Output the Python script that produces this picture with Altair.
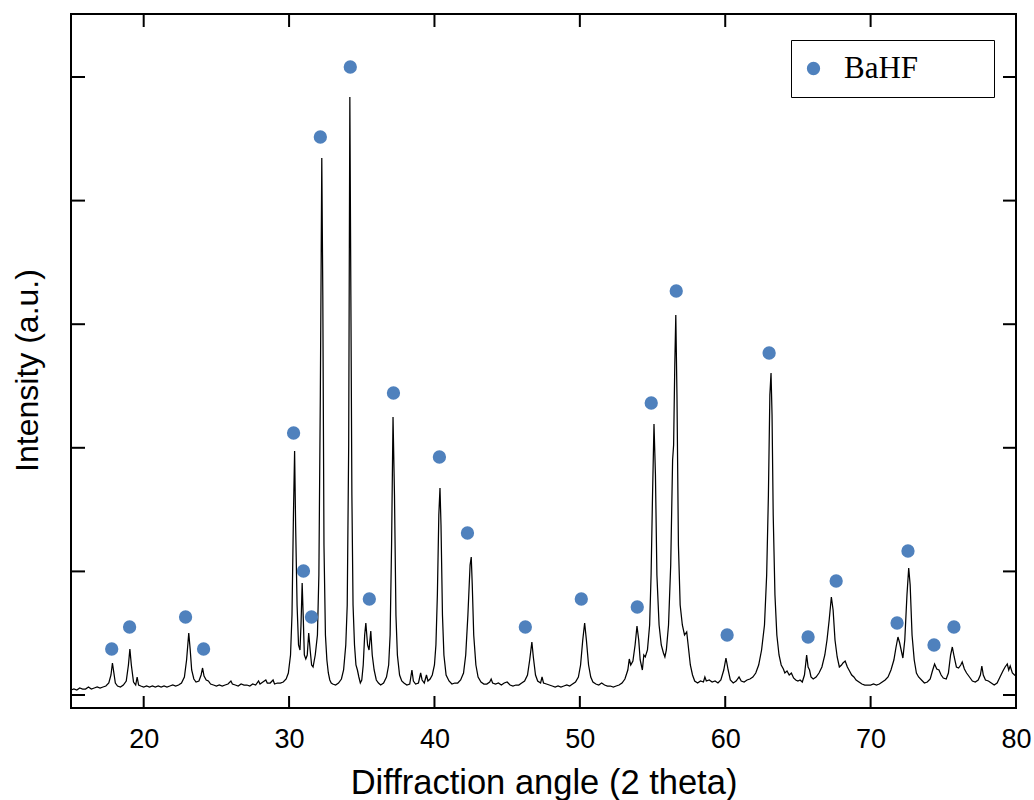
import altair as alt
import pandas as pd

# XRD trace: 2-theta (deg) and intensity (a.u.)
two_theta = [
    15.0, 15.2, 15.4, 15.6, 15.8, 16.0, 16.2, 16.4, 16.6, 16.8, 17.0, 17.2, 17.4, 17.6, 17.75, 17.85, 17.95, 18.05, 18.2, 18.4,
    18.6, 18.8, 18.95, 19.05, 19.15, 19.3, 19.45, 19.55, 19.65, 19.8, 20.0, 20.2, 20.4, 20.6, 20.8, 21.0, 21.2, 21.4, 21.6, 21.8,
    22.0, 22.2, 22.4, 22.6, 22.8, 22.95, 23.1, 23.2, 23.3, 23.45, 23.6, 23.8, 23.95, 24.05, 24.15, 24.3, 24.45, 24.6, 24.8, 25.0,
    25.2, 25.4, 25.6, 25.8, 26.0, 26.1, 26.3, 26.5, 26.7, 26.9, 27.1, 27.3, 27.5, 27.7, 27.9, 28.0, 28.2, 28.4, 28.5, 28.7,
    28.9, 29.0, 29.2, 29.4, 29.6, 29.8, 29.95, 30.1, 30.2, 30.3, 30.38, 30.45, 30.55, 30.65, 30.75, 30.82, 30.9, 30.98, 31.05, 31.15,
    31.25, 31.35, 31.45, 31.55, 31.65, 31.8, 31.95, 32.05, 32.15, 32.25, 32.32, 32.4, 32.5, 32.6, 32.7, 32.8, 32.9, 33.0, 33.2, 33.4,
    33.6, 33.75, 33.9, 34.0, 34.1, 34.18, 34.25, 34.32, 34.4, 34.5, 34.6, 34.7, 34.8, 34.9, 35.0, 35.1, 35.2, 35.28, 35.4, 35.5,
    35.62, 35.72, 35.85, 36.0, 36.15, 36.3, 36.5, 36.7, 36.85, 36.95, 37.05, 37.15, 37.25, 37.35, 37.45, 37.6, 37.75, 37.9, 38.1, 38.3,
    38.45, 38.55, 38.7, 38.9, 39.05, 39.15, 39.3, 39.45, 39.55, 39.7, 39.85, 40.0, 40.1, 40.2, 40.3, 40.38, 40.45, 40.55, 40.65, 40.8,
    41.0, 41.2, 41.4, 41.6, 41.8, 42.0, 42.15, 42.3, 42.45, 42.53, 42.6, 42.7, 42.85, 43.0, 43.2, 43.4, 43.6, 43.8, 43.9, 44.0,
    44.2, 44.4, 44.6, 44.8, 45.0, 45.2, 45.4, 45.6, 45.8, 46.0, 46.2, 46.4, 46.55, 46.7, 46.8, 46.95, 47.1, 47.3, 47.4, 47.5,
    47.7, 47.9, 48.1, 48.3, 48.5, 48.7, 48.9, 49.1, 49.3, 49.5, 49.7, 49.9, 50.05, 50.2, 50.33, 50.45, 50.6, 50.75, 50.9, 51.1,
    51.3, 51.5, 51.7, 51.9, 52.1, 52.3, 52.5, 52.7, 52.9, 53.1, 53.3, 53.4, 53.5, 53.65, 53.8, 53.93, 54.05, 54.15, 54.3, 54.4,
    54.5, 54.65, 54.8, 54.9, 55.0, 55.1, 55.2, 55.3, 55.45, 55.6, 55.75, 55.85, 55.95, 56.1, 56.25, 56.38, 56.45, 56.53, 56.6, 56.68,
    56.78, 56.9, 57.05, 57.2, 57.35, 57.45, 57.6, 57.75, 57.9, 58.1, 58.3, 58.5, 58.6, 58.7, 58.9, 59.1, 59.3, 59.5, 59.7, 59.9,
    60.05, 60.2, 60.35, 60.55, 60.75, 60.95, 61.1, 61.3, 61.5, 61.7, 61.9, 62.1, 62.3, 62.5, 62.7, 62.85, 62.97, 63.07, 63.15, 63.22,
    63.3, 63.42, 63.55, 63.7, 63.85, 64.0, 64.1, 64.25, 64.4, 64.55, 64.7, 64.85, 65.0, 65.15, 65.3, 65.45, 65.6, 65.7, 65.8, 65.9,
    66.05, 66.25, 66.45, 66.65, 66.85, 67.0, 67.15, 67.3, 67.42, 67.55, 67.7, 67.85, 68.0, 68.1, 68.25, 68.4, 68.55, 68.7, 68.85, 69.0,
    69.2, 69.4, 69.6, 69.8, 70.0, 70.2, 70.4, 70.6, 70.8, 71.0, 71.2, 71.4, 71.6, 71.75, 71.88, 72.0, 72.1, 72.22, 72.35, 72.5,
    72.62, 72.72, 72.85, 73.0, 73.15, 73.3, 73.5, 73.7, 73.9, 74.1, 74.25, 74.4, 74.55, 74.7, 74.85, 75.0, 75.2, 75.35, 75.5, 75.62,
    75.75, 75.9, 76.05, 76.2, 76.3, 76.45, 76.6, 76.8, 77.0, 77.2, 77.4, 77.55, 77.65, 77.75, 77.9, 78.1, 78.3, 78.5, 78.7, 78.9,
    79.1, 79.25, 79.4, 79.5, 79.6, 79.75, 79.9, 80.0,
]
intensity = [
    5, 6, 5, 7, 6, 6, 8, 6, 7, 8, 7, 8, 9, 12, 20, 32, 22, 12, 9, 8,
    10, 14, 30, 46, 30, 13, 10, 18, 10, 9, 8, 9, 8, 9, 8, 9, 8, 9, 8, 9,
    10, 9, 10, 12, 18, 35, 62, 45, 25, 16, 13, 14, 20, 27, 19, 15, 14, 11, 10, 9,
    10, 9, 10, 11, 14, 11, 10, 9, 11, 10, 10, 9, 11, 10, 14, 11, 13, 15, 12, 12,
    15, 11, 12, 12, 13, 16, 22, 40, 80, 180, 244, 170, 90, 50, 45, 70, 112, 75, 40, 36,
    40, 62, 45, 30, 28, 40, 60, 120, 300, 537, 400, 150, 60, 35, 22, 15, 12, 11, 10, 12,
    16, 25, 50, 90, 250, 598, 400, 200, 90, 50, 30, 25, 18, 12, 15, 30, 60, 72, 50, 45,
    64, 40, 25, 15, 12, 10, 12, 18, 30, 60, 150, 278, 200, 80, 40, 20, 14, 12, 10, 11,
    25, 14, 11, 12, 22, 15, 12, 20, 14, 16, 20, 30, 50, 100, 180, 207, 170, 80, 40, 20,
    14, 11, 12, 12, 15, 22, 40, 80, 130, 138, 110, 60, 30, 18, 13, 11, 11, 13, 16, 12,
    11, 12, 10, 12, 13, 10, 9, 10, 10, 12, 14, 20, 35, 53, 38, 20, 14, 12, 18, 12,
    11, 10, 9, 8, 9, 8, 9, 10, 9, 11, 13, 18, 30, 55, 72, 55, 30, 18, 13, 11,
    10, 12, 10, 9, 9, 8, 9, 10, 12, 16, 25, 36, 30, 34, 50, 69, 55, 35, 25, 40,
    38, 45, 70, 120, 200, 271, 220, 120, 70, 50, 42, 38, 45, 70, 130, 235, 250, 330, 380, 300,
    150, 90, 70, 60, 63, 50, 30, 20, 14, 12, 14, 13, 18, 14, 15, 13, 14, 12, 15, 25,
    37, 25, 15, 12, 14, 18, 14, 13, 15, 16, 18, 22, 30, 45, 70, 120, 200, 300, 322, 280,
    180, 100, 60, 40, 30, 26, 22, 24, 20, 22, 17, 15, 14, 15, 13, 20, 40, 28, 25, 18,
    16, 18, 22, 28, 40, 55, 75, 98, 85, 55, 38, 28, 30, 32, 34, 28, 24, 20, 18, 15,
    13, 11, 10, 10, 10, 11, 10, 11, 13, 15, 18, 25, 35, 48, 58, 52, 45, 37, 55, 100,
    127, 110, 60, 35, 22, 18, 15, 12, 13, 16, 24, 31, 26, 25, 20, 17, 16, 22, 40, 48,
    38, 28, 27, 30, 33, 26, 22, 18, 14, 13, 15, 20, 29, 20, 15, 14, 12, 10, 12, 18,
    24, 28, 31, 25, 29, 22, 20, 19,
]

# BaHF reflection markers
marker_theta = [17.80, 19.03, 22.88, 24.12, 30.31, 30.99, 31.54, 32.15, 34.21, 35.52, 37.18, 40.34, 42.27,
                46.25, 50.10, 53.95, 54.91, 56.63, 60.13, 63.02, 65.70, 67.63, 71.82, 72.57, 74.36, 75.73]
marker_height = [46, 68, 78, 46, 262, 124, 78, 558, 628, 96, 302, 238, 162,
                 68, 96, 88, 292, 404, 60, 342, 58, 114, 72, 144, 50, 68]

x_ticks = [20, 30, 40, 50, 60, 70, 80]
y_ticks = [0, 123.6, 247.2, 370.8, 494.4, 618]

W, H = 945, 694

trace = pd.DataFrame({"theta": two_theta, "I": intensity})
marks = pd.DataFrame({"theta": marker_theta, "I": marker_height, "phase": ["BaHF"] * len(marker_theta)})
xt = pd.DataFrame({"t": x_ticks})
yt = pd.DataFrame({"t": y_ticks})

xscale = alt.Scale(domain=[15, 80], nice=False, zero=False)
yscale = alt.Scale(domain=[-13, 681], nice=False, zero=False)

xaxis = alt.Axis(
    title="Diffraction angle (2 theta)", values=x_ticks, grid=False, domain=False, ticks=False, tickSize=0,
    labelFont="Liberation Sans", labelFontSize=27, labelColor="black", labelPadding=39,
    labelBaseline="alphabetic", labelOverlap=False, labelFlush=False,
    titleFont="Liberation Sans", titleFontSize=34.5, titleFontWeight="normal", titleColor="black",
    titleBaseline="alphabetic", titleX=W / 2, titleY=85,
)
yaxis = alt.Axis(
    title="Intensity (a.u.)", values=y_ticks, grid=False, domain=False, ticks=False, tickSize=0, labels=False,
    titleFont="Liberation Sans", titleFontSize=32, titleFontWeight="normal", titleColor="black",
    titleBaseline="alphabetic", titleX=-34, titleY=356,
)

line = alt.Chart(trace).mark_line(color="black", strokeWidth=1.25).encode(
    x=alt.X("theta:Q", scale=xscale, axis=xaxis),
    y=alt.Y("I:Q", scale=yscale, axis=yaxis),
)

pad_label = "datum.label + '" + "\u00a0" * 8 + "\u200b'"

points = alt.Chart(marks).mark_point(filled=True, size=177, opacity=1, shape="circle").encode(
    x=alt.X("theta:Q", scale=xscale),
    y=alt.Y("I:Q", scale=yscale),
    color=alt.Color(
        "phase:N",
        scale=alt.Scale(range=["#4f81bd"]),
        legend=alt.Legend(
            title=None, orient="none", legendX=720, legendY=26, padding=13,
            strokeColor="black", fillColor="white", cornerRadius=0,
            labelFont="Liberation Serif", labelFontSize=31, labelColor="black", labelOffset=15,
            labelLimit=400, labelExpr=pad_label, symbolOffset=-6,
            symbolType="circle", symbolSize=177, symbolStrokeWidth=0, symbolOpacity=1,
        ),
    ),
)

tick_bottom = alt.Chart(xt).mark_rule(color="black", strokeWidth=2).encode(
    x=alt.X("t:Q", scale=xscale), y=alt.value(H), y2=alt.value(H - 12))
tick_top = alt.Chart(xt).mark_rule(color="black", strokeWidth=2).encode(
    x=alt.X("t:Q", scale=xscale), y=alt.value(0), y2=alt.value(13))
tick_left = alt.Chart(yt).mark_rule(color="black", strokeWidth=2).encode(
    y=alt.Y("t:Q", scale=yscale), x=alt.value(0), x2=alt.value(14))
tick_right = alt.Chart(yt).mark_rule(color="black", strokeWidth=2).encode(
    y=alt.Y("t:Q", scale=yscale), x=alt.value(W), x2=alt.value(W - 13))

chart = alt.layer(line, tick_bottom, tick_top, tick_left, tick_right, points).properties(
    width=W, height=H,
    autosize=alt.AutoSizeParams(type="none"),
    padding={"left": 71, "top": 14, "right": 18, "bottom": 92},
    background="white",
).configure_view(stroke="black", strokeWidth=2)

chart.save("out.html", embed_options={"renderer": "svg", "actions": False})
